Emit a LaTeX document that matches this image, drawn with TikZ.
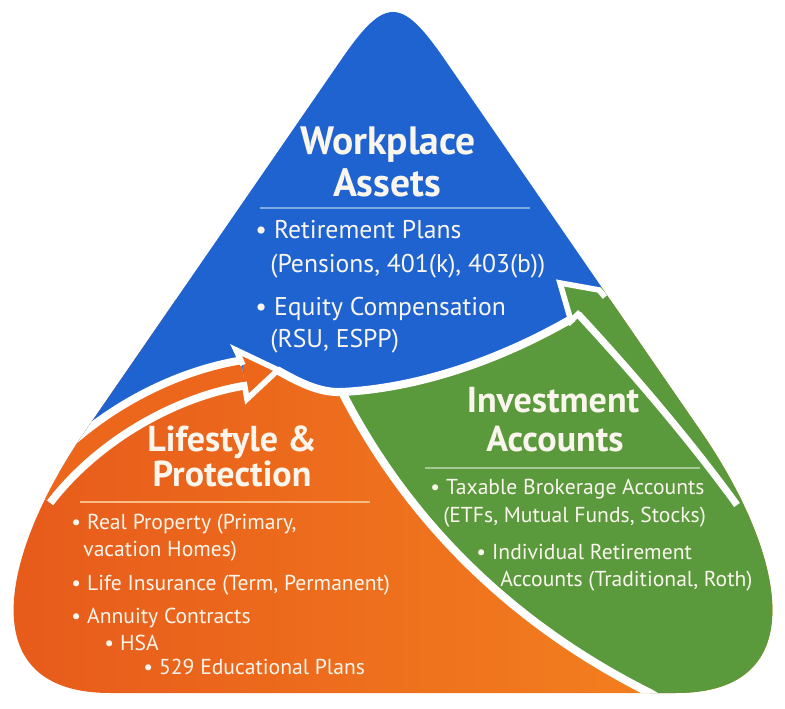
\documentclass[tikz,border=0pt]{standalone}
\usepackage{fontspec}
\setmainfont{PT Sans}
\usetikzlibrary{positioning}
\definecolor{wpblue}{HTML}{1E63D0}
\definecolor{invgreen}{HTML}{5A993C}
\definecolor{orgL}{HTML}{E75A1B}
\definecolor{orgR}{HTML}{F5861F}
\definecolor{orgarrow}{HTML}{EC661C}
\definecolor{txt}{HTML}{FAF6EE}
\newcommand{\itembullet}{\textbullet\hspace{0.28em}}
\tikzset{%
	band/.style = { white, line width=4.6pt },
	title/.style = { txt, anchor=base, inner sep=0pt, font=\bfseries\fontsize{20.5}{24}\selectfont },
	bigtitle/.style = { title, font=\bfseries\fontsize{22.5}{26}\selectfont },
	bigitem/.style = { txt, anchor=base west, inner sep=0pt, font=\fontsize{14.6}{17}\selectfont },
	item/.style = { txt, anchor=base west, inner sep=0pt, font=\fontsize{12.3}{15}\selectfont },
	rule/.style = { line width=0.7pt }
}
\begin{document}
\begin{tikzpicture}[x=0.02cm, y=-0.02cm]
	\useasboundingbox (0,0) rectangle (785,709);
	\begin{scope}
		% rounded triangle
		\clip (341,60) .. controls (385,-4) and (401,-4) .. (445,60) -- (700,430)
			.. controls (785,553) and (816,693) .. (676,693) -- (110,693)
			.. controls (-30,693) and (1,553) .. (86,430) -- cycle;
		% three parts
		\shade[left color=orgL, right color=orgR] (0,300) rectangle (785,709);
		\fill[invgreen] (342,392) .. controls (422,388) and (504,358) .. (573,318) -- (598,288) -- (640,270)
			-- (800,270) -- (800,720) -- (690,720) -- (650,693) .. controls (516,626) and (410,525) .. (342,392) -- cycle;
		\fill[wpblue] (-10,-10) -- (-10,495) -- (40,495) .. controls (90,430) and (170,385) .. (243,373)
			-- (277,370) .. controls (300,383) and (320,393) .. (342,392) .. controls (422,388) and (504,358) .. (573,318)
			-- (598,288) -- (640,270) -- (800,270) -- (800,-10) -- cycle;
		% white borders
		\draw[band] (277,370) .. controls (300,383) and (320,393) .. (342,392) .. controls (422,388) and (504,358) .. (573,318);
		\draw[band] (342,392) .. controls (410,525) and (516,626) .. (650,693) -- (670,705);
		% orange arrow
		\draw[white, line width=19pt] (40,495) .. controls (90,430) and (170,385) .. (243,373);
		\draw[orgarrow, line width=10pt] (40,495) .. controls (90,430) and (170,385) .. (243,373);
		\filldraw[fill=orgarrow, draw=white, line width=3.2pt] (243,365) -- (236,350) -- (278,370) -- (247,399) -- (244,382);
		% green arrow
		\draw[white, line width=4pt] (578,314) .. controls (630,370) and (690,440) .. (737,505);
		\filldraw[fill=invgreen, draw=white, line width=3.2pt] (580,312) -- (571,321) -- (560,283) -- (599,290) -- (605,297);
	\end{scope}
	% Workplace Assets
	\node[bigtitle] (wpA) at (388,155) {Workplace};
	\node[bigtitle] (wpB) at (387,197) {Assets};
	\draw[rule, wpblue!55!white] (260,208) -- (530,208);
	\node[bigitem] (wp1) at (255,239) {\itembullet Retirement Plans};
	\node[bigitem] (wp2) at (270,273) {(Pensions, 401(k), 403(b))};
	\node[bigitem] (wp3) at (255,316) {\itembullet Equity Compensation};
	\node[bigitem] (wp4) at (270,348) {(RSU, ESPP)};
	% Lifestyle & Protection
	\node[title] (lpA) at (232,452) {Lifestyle \&};
	\node[title] (lpB) at (232,487) {Protection};
	\draw[rule, orgR!55!white] (80,502) -- (370,502);
	\node[item] (lp1) at (71,530) {\itembullet Real Property (Primary,};
	\node[item] (lp2) at (83,557) {vacation Homes)};
	\node[item] (lp3) at (71,591) {\itembullet Life Insurance (Term, Permanent)};
	\node[item] (lp4) at (71,623) {\itembullet Annuity Contracts};
	\node[item] (lp5) at (104,650) {\itembullet HSA};
	\node[item] (lp6) at (143,675) {\itembullet 529 Educational Plans};
	% Investment Accounts
	\node[title] (iaA) at (553,413) {Investment};
	\node[title] (iaB) at (555,452) {Accounts};
	\draw[rule, invgreen!55!white] (425,468) -- (700,468);
	\node[item] (ia1) at (430,495) {\itembullet Taxable Brokerage Accounts};
	\node[item] (ia2) at (443,523) {(ETFs, Mutual Funds, Stocks)};
	\node[item] (ia3) at (476,560) {\itembullet Individual Retirement};
	\node[item] (ia4) at (500,587) {Accounts (Traditional, Roth)};
\end{tikzpicture}
\end{document}
